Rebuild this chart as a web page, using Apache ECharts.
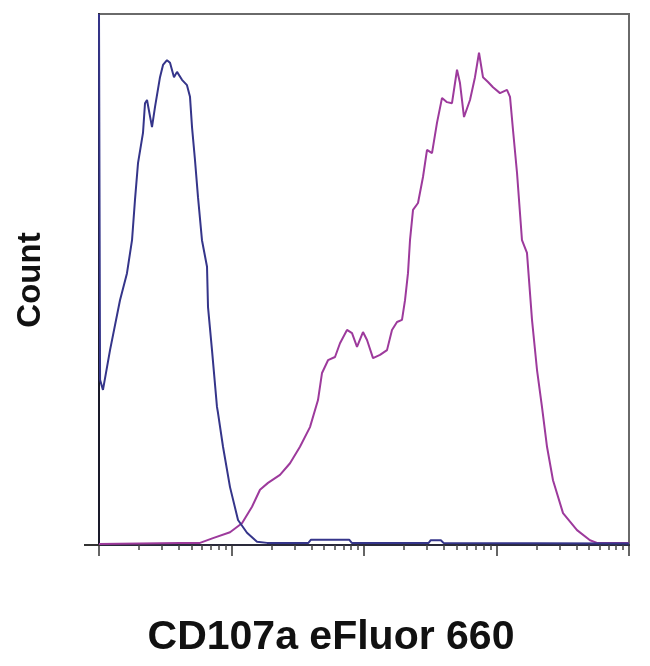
<!DOCTYPE html>
<html>
<head>
<meta charset="utf-8">
<script src="https://cdn.jsdelivr.net/npm/echarts@6/dist/echarts.min.js"></script>
<style>
html,body{margin:0;padding:0;background:#fff;}
#chart{width:650px;height:666px;}
</style>
</head>
<body>
<div id="chart"></div>
<script>
// Channel scale 0..1000 spans 4 log decades; count scale 0..100 (top of frame)
const xAxisTitle = 'CD107a eFluor 660';
const yAxisTitle = 'Count';
const decadeTicks = [0, 250, 500, 750, 1000];

// Unstained / isotype control (blue)
const blueX = [0, 2, 7.5, 20.8, 39.6, 52.8, 62.3, 67.9, 73.6, 83.0, 86.8, 90.6, 100.0, 105.7, 115.1, 120.8, 128.3, 134.0, 141.5, 147.2, 156.6, 166.0, 171.7, 175.5, 181.1, 186.8, 194.3, 203.8, 205.7, 213.2, 222.6, 224.5, 234.0, 247.2, 262.3, 279.2, 298.1, 317.0, 395, 400, 472, 477, 622, 626, 645, 650, 1000];
const blueY = [100, 31.1, 29.2, 36.7, 46.1, 51.2, 57.4, 65.0, 71.9, 77.6, 83.2, 83.8, 78.7, 82.5, 88.1, 90.4, 91.3, 90.8, 88.1, 89.1, 87.6, 86.6, 84.4, 78.7, 72.5, 65.5, 57.4, 52.4, 44.8, 36.7, 26.0, 24.9, 18.5, 10.9, 4.7, 2.3, 0.6, 0.4, 0.4, 1.0, 1.0, 0.4, 0.4, 0.9, 0.9, 0.4, 0.3];

// CD107a eFluor 660 stained (magenta)
const magX = [0, 152.8, 190.6, 215.1, 247.2, 269.8, 288.7, 303.8, 318.9, 341.5, 360.4, 379.2, 398.1, 413.2, 420.8, 432.1, 445.3, 454.7, 467.9, 477.4, 486.8, 498.1, 505.7, 517.0, 530.2, 543.4, 552.8, 562.3, 571.7, 577.4, 583.0, 586.8, 592.5, 601.9, 611.3, 618.9, 628.3, 637.7, 647.2, 656.6, 666.0, 675.5, 681.1, 688.7, 700.0, 709.4, 717.0, 724.5, 734.0, 743.4, 756.6, 769.8, 775.5, 781.1, 788.7, 798.1, 807.5, 817.0, 826.4, 835.8, 845.3, 856.6, 875.5, 901.9, 926.4, 939.6, 1000];
const magY = [0.2, 0.4, 0.4, 1.3, 2.4, 4.1, 7.2, 10.4, 11.7, 13.2, 15.4, 18.5, 22.2, 27.3, 32.4, 34.8, 35.4, 38.0, 40.5, 39.9, 37.3, 40.1, 38.6, 35.2, 35.8, 36.7, 40.5, 42.0, 42.4, 46.1, 51.2, 57.4, 63.1, 64.4, 69.3, 74.4, 73.8, 79.5, 84.2, 83.4, 83.2, 89.5, 87.0, 80.6, 83.8, 88.1, 92.7, 88.1, 87.2, 86.2, 85.1, 85.7, 84.4, 78.2, 70.1, 57.4, 55.0, 42.4, 33.0, 26.0, 18.5, 12.2, 6.0, 2.8, 0.9, 0.4, 0.4];

// minor log ticks (2..9 within each decade)
const minorTicks = [];
for (let d = 0; d < 4; d++) {
  for (let k = 2; k <= 9; k++) minorTicks.push(d * 250 + Math.log10(k) * 250);
}

const zip = (xs, ys) => xs.map((x, i) => [x, ys[i]]);

const chart = echarts.init(document.getElementById('chart'), null, {renderer: 'canvas'});
chart.setOption({
  animation: false,
  backgroundColor: '#fff',
  grid: {left: 99, top: 14, width: 530, height: 531, show: true, borderColor: '#6a6a6a', borderWidth: 2, backgroundColor: 'transparent'},
  xAxis: [
    {type: 'value', min: 0, max: 1000, position: 'bottom',
     axisLine: {show: true, lineStyle: {color: '#2a2a3a', width: 2}},
     axisTick: {show: true, customValues: decadeTicks, length: 11, lineStyle: {color: '#333', width: 1.5}},
     axisLabel: {show: false}, splitLine: {show: false}},
    {type: 'value', min: 0, max: 1000, position: 'bottom',
     axisLine: {show: false},
     axisTick: {show: true, customValues: minorTicks, length: 5, lineStyle: {color: '#444', width: 1.5}},
     axisLabel: {show: false}, splitLine: {show: false}}
  ],
  yAxis: {type: 'value', min: 0, max: 100,
    axisLine: {show: true, lineStyle: {color: '#1a1a2a', width: 2}},
    axisTick: {show: true, customValues: [0], length: 15, lineStyle: {color: '#333', width: 2}},
    axisLabel: {show: false}, splitLine: {show: false}},
  graphic: [
    {type: 'text', x: 331, y: 638, style: {text: xAxisTitle, font: 'bold 41px "Liberation Sans", Arial, sans-serif', fill: '#111', align: 'center', verticalAlign: 'middle'}},
    {type: 'text', x: 14, y: 280, rotation: Math.PI / 2, style: {text: yAxisTitle, font: 'bold 33px "Liberation Sans", Arial, sans-serif', fill: '#111', align: 'center', verticalAlign: 'top'}}
  ],
  series: [
    {type: 'line', name: 'Control', xAxisIndex: 0, data: zip(blueX, blueY), showSymbol: false, clip: true,
     lineStyle: {color: '#35358a', width: 2}, z: 3},
    {type: 'line', name: 'CD107a', xAxisIndex: 0, data: zip(magX, magY), showSymbol: false, clip: true,
     lineStyle: {color: '#9d3a9c', width: 2}, z: 2}
  ]
});
</script>
</body>
</html>
